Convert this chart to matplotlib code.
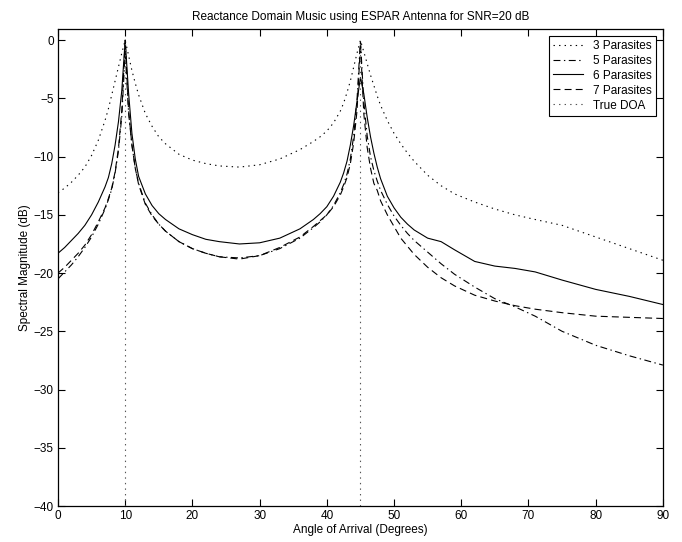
import numpy as np
import matplotlib
matplotlib.use('Agg')
import matplotlib.pyplot as plt

plt.rcParams['font.family'] = ['Liberation Sans', 'DejaVu Sans']
plt.rcParams['lines.scale_dashes'] = False

# angle grid (degrees)
angles = [0, 1, 2, 3, 4, 5, 6, 7, 7.5, 8, 8.5, 9, 9.5, 10,
          10.5, 11, 11.5, 12, 13, 14, 15, 16, 18, 20, 22, 24, 27,
          30, 33, 36, 38, 39, 40, 41, 42, 42.5, 43, 43.5, 44, 44.5, 45,
          45.5, 46, 46.5, 47, 47.5, 48, 49, 50, 51, 52, 53,
          55, 57, 59, 62, 65, 68, 71, 75, 80, 85, 90]

# spectral magnitude (dB)
p3 = [-13.1, -12.7, -12.2, -11.6, -10.9, -9.9, -8.6, -6.9, -5.9, -4.7, -3.5, -2.3, -1.1, 0,
      -1.3, -2.6, -3.7, -4.7, -6.3, -7.4, -8.3, -8.9, -9.8, -10.3, -10.6, -10.8, -10.9,
      -10.7, -10.2, -9.4, -8.7, -8.3, -7.8, -7.1, -6.1, -5.4, -4.5, -3.5, -2.3, -1.1, 0,
      -1.0, -2.0, -3.0, -3.9, -4.8, -5.6, -6.9, -8.0, -8.9, -9.7, -10.4,
      -11.6, -12.5, -13.2, -13.9, -14.5, -15.0, -15.4, -15.9, -16.9, -17.9, -18.9]
p5 = [-20.5, -19.9, -19.3, -18.6, -17.8, -16.9, -15.8, -14.5, -13.7, -12.8, -11.4, -9.5, -6.5, -1.0,
      -6.2, -9.0, -11.0, -12.3, -14.0, -15.0, -15.8, -16.4, -17.3, -17.9, -18.3, -18.6, -18.7,
      -18.5, -17.9, -17.0, -16.1, -15.6, -15.0, -14.2, -13.1, -12.4, -11.5, -10.2, -8.2, -5.0, 0,
      -5.3, -8.2, -10.0, -11.2, -12.1, -12.9, -14.1, -15.1, -15.9, -16.6, -17.2,
      -18.2, -19.2, -20.1, -21.2, -22.2, -22.9, -23.7, -25.0, -26.2, -27.1, -27.9]
p6 = [-18.3, -17.8, -17.2, -16.6, -15.9, -15.0, -13.9, -12.6, -11.8, -10.6, -9.0, -7.0, -4.3, 0,
      -4.5, -8.0, -10.2, -11.7, -13.2, -14.2, -14.9, -15.4, -16.2, -16.7, -17.1, -17.3, -17.5,
      -17.4, -17.0, -16.2, -15.4, -14.9, -14.3, -13.4, -12.2, -11.4, -10.4, -9.0, -7.3, -5.2, -3.2,
      -4.6, -6.6, -8.3, -9.7, -10.9, -11.9, -13.4, -14.4, -15.2, -15.8, -16.3,
      -17.0, -17.3, -18.0, -19.0, -19.4, -19.6, -19.9, -20.6, -21.4, -22.0, -22.7]
p7 = [-20.0, -19.5, -18.9, -18.3, -17.6, -16.7, -15.6, -14.4, -13.6, -12.7, -11.3, -9.3, -6.0, 0,
      -6.0, -9.0, -11.0, -12.4, -14.1, -15.1, -15.8, -16.4, -17.3, -17.9, -18.3, -18.6, -18.8,
      -18.5, -17.8, -16.9, -16.0, -15.5, -15.0, -14.3, -13.3, -12.6, -11.8, -10.6, -8.8, -6.0, -0.3,
      -6.3, -9.2, -11.0, -12.3, -12.9, -13.8, -15.0, -16.0, -17.0, -17.7, -18.4,
      -19.5, -20.4, -21.1, -21.9, -22.4, -22.8, -23.1, -23.4, -23.7, -23.8, -23.9]
true_doa = [10, 45]

fig = plt.figure(figsize=(6.82, 5.42), dpi=100)
ax = fig.add_axes([0.085, 0.0664, 0.887, 0.881])

ax.plot(angles, p3, color='black', lw=0.8, dashes=(1, 3), label='3 Parasites')
ax.plot(angles, p5, color='black', lw=0.8, dashes=(5, 2.5, 1, 2.5), label='5 Parasites')
ax.plot(angles, p6, color='black', lw=0.8, linestyle='-', label='6 Parasites')
ax.plot(angles, p7, color='black', lw=0.8, dashes=(5, 3), label='7 Parasites')

doa_x, doa_y = [], []
for d in true_doa:
    doa_x += [d, d, np.nan]
    doa_y += [-40, 0, np.nan]
ax.plot(doa_x, doa_y, color='#555555', lw=0.8, dashes=(1, 3), label='True DOA')

ax.set_xlim(0, 90)
ax.set_ylim(-40, 1)
ax.set_xticks(range(0, 91, 10))
ax.set_yticks(range(-40, 1, 5))
ax.set_yticklabels(['\u2212%d' % -v if v < 0 else '%d' % v for v in range(-40, 1, 5)])
ax.tick_params(direction='in', top=True, right=True, length=5, width=0.8,
               labelsize=8.5, pad=3)
for s in ax.spines.values():
    s.set_linewidth(0.9)

ax.set_title('Reactance Domain Music using ESPAR Antenna for SNR=20 dB', fontsize=8.5, pad=6)
ax.set_xlabel('Angle of Arrival (Degrees)', fontsize=8.5, labelpad=1)
ax.set_ylabel('Spectral Magnitude (dB)', fontsize=8.5, labelpad=2)

leg = ax.legend(loc='upper right', fontsize=8.5, fancybox=False, framealpha=1,
                edgecolor='black', handlelength=2.6, borderaxespad=0.6,
                labelspacing=0.25, borderpad=0.35, handletextpad=0.8)
leg.get_frame().set_linewidth(0.8)

fig.savefig('out.png', dpi=100)
